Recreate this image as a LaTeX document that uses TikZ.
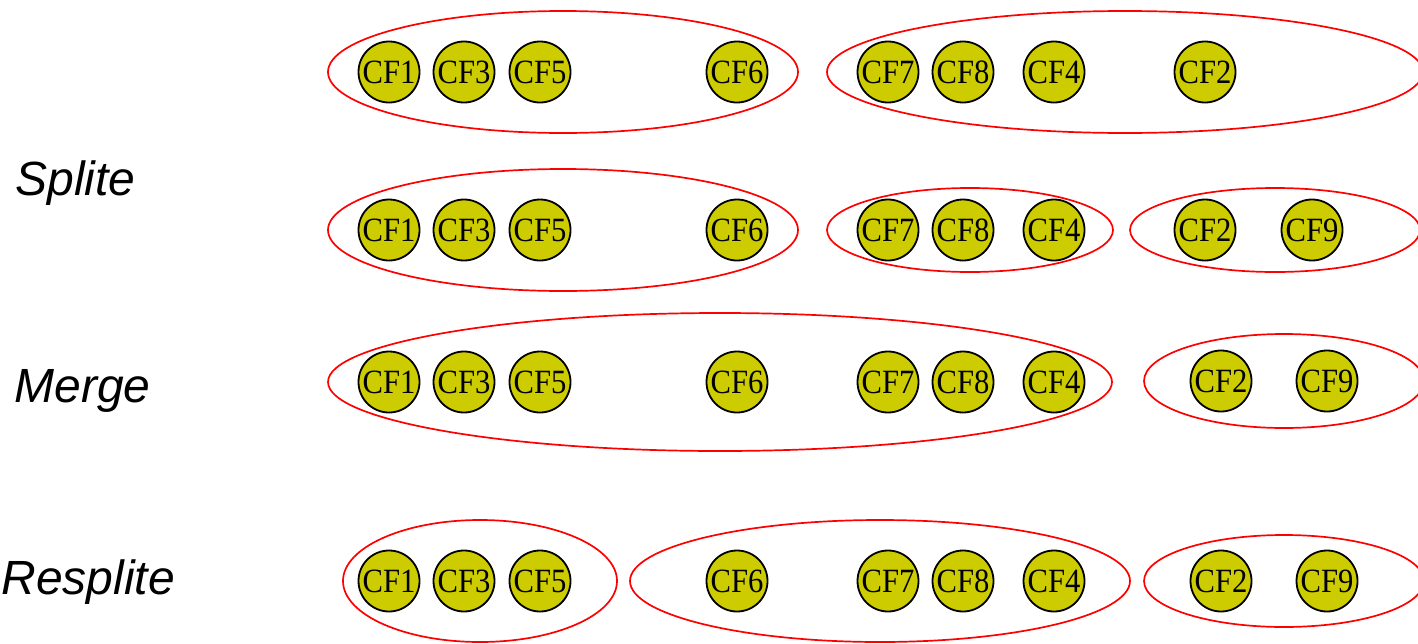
\documentclass[tikz,border=0pt]{standalone}
\usepackage{fontspec}
\setmainfont{Liberation Serif}
\newfontfamily\cffont[FakeStretch=0.9]{Liberation Serif}
\newfontfamily\etiqfont{Liberation Sans}
\definecolor{cfamarillo}{HTML}{CCCC00}
\tikzset{
  cf/.style={circle, draw=black, line width=1.8pt, fill=cfamarillo, minimum size=61pt,
    inner sep=0pt, font=\cffont\fontsize{34}{34}\selectfont},
  grupo/.style={draw=red, line width=1.7pt},
  etiq/.style={anchor=west, font=\etiqfont\itshape\fontsize{48}{48}\selectfont}
}
\begin{document}
\begin{tikzpicture}[x=1pt, y=-1pt]
  \useasboundingbox (0,0) rectangle (1418,643);
  % Etiquetas
  \node[etiq] (splite) at (12,183) {Splite};
  \node[etiq] (merge) at (11,391) {Merge};
  \node[etiq] (resplite) at (-2,582) {Resplite};
  % Fila 1
  \draw[grupo] (563,72) ellipse [x radius=235, y radius=61];
  \draw[grupo] (1125,72) ellipse [x radius=298, y radius=61];
  \node[cf] (a1) at (389,72) {CF1};
  \node[cf] (a3) at (464,72) {CF3};
  \node[cf] (a5) at (540,72) {CF5};
  \node[cf] (a6) at (737,72) {CF6};
  \node[cf] (a7) at (888,72) {CF7};
  \node[cf] (a8) at (963,72) {CF8};
  \node[cf] (a4) at (1054,72) {CF4};
  \node[cf] (a2) at (1205,72) {CF2};
  % Fila 2
  \draw[grupo] (563,230) ellipse [x radius=235, y radius=61];
  \draw[grupo] (970,230) ellipse [x radius=143, y radius=42];
  \draw[grupo] (1275,230) ellipse [x radius=145, y radius=42];
  \node[cf] (b1) at (389,230) {CF1};
  \node[cf] (b3) at (464,230) {CF3};
  \node[cf] (b5) at (540,230) {CF5};
  \node[cf] (b6) at (737,230) {CF6};
  \node[cf] (b7) at (888,230) {CF7};
  \node[cf] (b8) at (963,230) {CF8};
  \node[cf] (b4) at (1054,230) {CF4};
  \node[cf] (b2) at (1205,230) {CF2};
  \node[cf] (b9) at (1312,230) {CF9};
  % Fila 3
  \draw[grupo] (720,382) ellipse [x radius=392, y radius=69];
  \draw[grupo] (1284,381) ellipse [x radius=140, y radius=47];
  \node[cf] (c1) at (389,382) {CF1};
  \node[cf] (c3) at (464,382) {CF3};
  \node[cf] (c5) at (540,382) {CF5};
  \node[cf] (c6) at (737,382) {CF6};
  \node[cf] (c7) at (888,382) {CF7};
  \node[cf] (c8) at (963,382) {CF8};
  \node[cf] (c4) at (1054,382) {CF4};
  \node[cf] (c2) at (1221,381) {CF2};
  \node[cf] (c9) at (1327,381) {CF9};
  % Fila 4
  \draw[grupo] (480,581) ellipse [x radius=137, y radius=61];
  \draw[grupo] (880,581) ellipse [x radius=250, y radius=61];
  \draw[grupo] (1284,581) ellipse [x radius=140, y radius=46];
  \node[cf] (d1) at (389,581) {CF1};
  \node[cf] (d3) at (464,581) {CF3};
  \node[cf] (d5) at (540,581) {CF5};
  \node[cf] (d6) at (737,581) {CF6};
  \node[cf] (d7) at (888,581) {CF7};
  \node[cf] (d8) at (963,581) {CF8};
  \node[cf] (d4) at (1054,581) {CF4};
  \node[cf] (d2) at (1221,581) {CF2};
  \node[cf] (d9) at (1327,581) {CF9};
\end{tikzpicture}
\end{document}
